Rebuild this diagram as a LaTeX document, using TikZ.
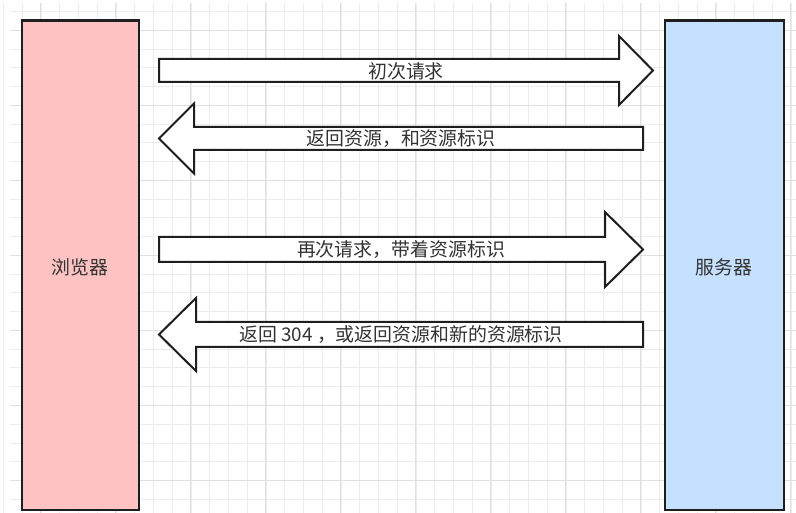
\documentclass[tikz,border=0pt]{standalone}
\usepackage{fontspec}
\newfontfamily\cjk{Noto Sans CJK SC}
\definecolor{gridminor}{RGB}{236,236,236}
\definecolor{gridmajor}{RGB}{224,224,224}
\definecolor{pinkfill}{RGB}{255,194,194}
\definecolor{bluefill}{RGB}{198,224,255}
\definecolor{ink}{RGB}{30,30,30}
\definecolor{txt}{RGB}{51,51,51}
\begin{document}
\begin{tikzpicture}[x=1pt,y=-1pt,
  party/.style={draw=ink,line width=2.2pt,minimum width=117pt,minimum height=489pt,inner sep=0pt,anchor=north west},
  fatarrow/.style={draw=ink,line width=2pt,fill=white,line join=miter},
  lbl/.style={font=\cjk\fontsize{18.9}{21}\selectfont,text=txt,inner sep=0pt}]
\useasboundingbox (0,0) rectangle (796,513);
\fill[white] (0,0) rectangle (796,513);
% grid
\foreach \i in {0,...,42} {
  \pgfmathsetmacro\gx{3.5+18.75*\i}
  \draw[gridminor,line width=1pt] (\gx,3) -- (\gx,513);
}
\foreach \i in {0,...,27} {
  \pgfmathsetmacro\gy{11.75+18.75*\i}
  \draw[gridminor,line width=1pt] (10,\gy) -- (796,\gy);
}
\foreach \i in {0,...,10} {
  \pgfmathsetmacro\gx{40+75*\i}
  \draw[gridmajor,line width=1pt] (\gx,3) -- (\gx,513);
}
\foreach \i in {0,...,6} {
  \pgfmathsetmacro\gy{30.5+75*\i}
  \draw[gridmajor,line width=1pt] (10,\gy) -- (796,\gy);
}
% parties
\node[party,fill=pinkfill] (browser) at (21,19.5) {};
\node[lbl] (browserlbl) at (80,267) {浏览器};
\node[party,fill=bluefill,minimum width=119pt] (server) at (664,19.5) {};
\node[lbl] (serverlbl) at (724,267) {服务器};
% arrow 1: first request
\draw[fatarrow] (159,59) -- (619,59) -- (619,36) -- (653,70.5) -- (619,105) -- (619,82) -- (159,82) -- cycle;
\node[lbl] (req1) at (406,71) {初次请求};
% arrow 2: return resource
\draw[fatarrow] (643,127) -- (194,127) -- (194,103.5) -- (159,138.5) -- (194,173.5) -- (194,150) -- (643,150) -- cycle;
\node[lbl] (resp1) at (401,138.5) {返回资源，和资源标识};
% arrow 3: second request
\draw[fatarrow] (159,237) -- (605,237) -- (605,212) -- (643,249.5) -- (605,287) -- (605,262) -- (159,262) -- cycle;
\node[lbl] (req2) at (401,250) {再次请求，带着资源标识};
% arrow 4: 304 or new resource
\draw[fatarrow] (643,322) -- (196,322) -- (196,298) -- (159,334.5) -- (196,371) -- (196,347) -- (643,347) -- cycle;
\node[lbl] (resp2) at (401,335) {返回 304 ，或返回资源和新的资源标识};
\end{tikzpicture}
\end{document}
